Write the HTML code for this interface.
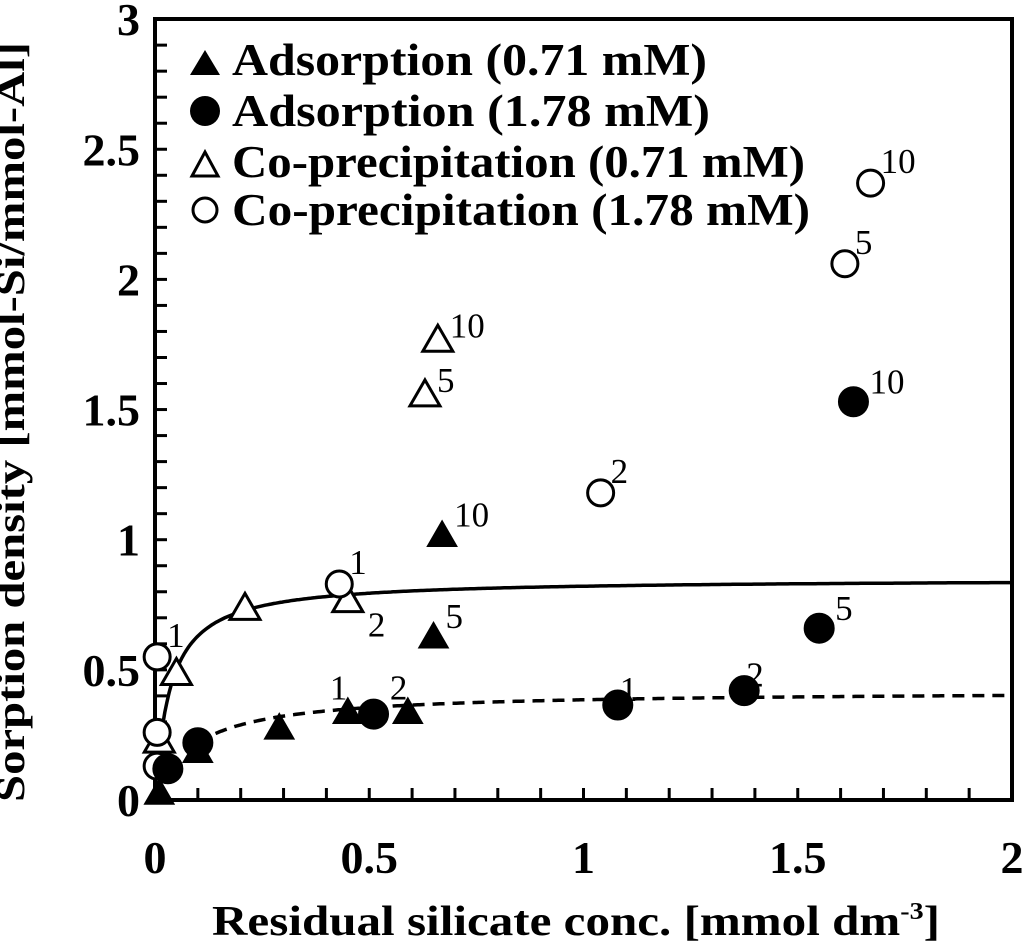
<!DOCTYPE html>
<html><head><meta charset="utf-8"><style>
html,body{margin:0;padding:0;background:#fff;}
svg{display:block;}
text{font-family:"Liberation Serif",serif;fill:#000;}
</style></head><body>
<svg id="chart" width="1024" height="948" viewBox="0 0 1024 948" xmlns="http://www.w3.org/2000/svg">
<rect x="155" y="19" width="857" height="781" fill="none" stroke="#000" stroke-width="4"/>
<g id="ticks"></g>
<g id="curves"></g>
<g id="marks"></g>
<g id="labels"></g>
<text x="24" y="422" transform="rotate(-90 24 422)" text-anchor="middle" font-weight="bold" font-size="40" textLength="760" lengthAdjust="spacingAndGlyphs">Sorption density [mmol-Si/mmol-Al]</text>
<text x="212" y="935" font-weight="bold" font-size="42" textLength="728" lengthAdjust="spacingAndGlyphs">Residual silicate conc. [mmol dm<tspan font-size="24" dy="-16">-3</tspan><tspan dy="16">]</tspan></text>
<g>
<polygon points="190,75 205,50 220,75" fill="#000"/>
<text x="232" y="75" font-weight="bold" font-size="45" textLength="475" lengthAdjust="spacingAndGlyphs">Adsorption (0.71 mM)</text>
<circle cx="205" cy="111" r="15" fill="#000"/>
<text x="232" y="126" font-weight="bold" font-size="45" textLength="478" lengthAdjust="spacingAndGlyphs">Adsorption (1.78 mM)</text>
<polygon points="192,176 205,152 218,176" fill="none" stroke="#000" stroke-width="3"/>
<text x="232" y="177" font-weight="bold" font-size="45" textLength="573" lengthAdjust="spacingAndGlyphs">Co-precipitation (0.71 mM)</text>
<circle cx="205" cy="210" r="12" fill="none" stroke="#000" stroke-width="3"/>
<text x="232" y="225" font-weight="bold" font-size="45" textLength="578" lengthAdjust="spacingAndGlyphs">Co-precipitation (1.78 mM)</text>
</g>
</svg>
<script>
const xTicks = [0, 0.5, 1, 1.5, 2];
const yTicks = [0, 0.5, 1, 1.5, 2, 2.5, 3];
const xTickLabels = ["0", "0.5", "1", "1.5", "2"];
const yTickLabels = ["0", "0.5", "1", "1.5", "2", "2.5", "3"];
const adsLowX = [0.01, 0.10, 0.29, 0.45, 0.59, 0.65, 0.67];
const adsLowY = [0.03, 0.19, 0.28, 0.34, 0.34, 0.63, 1.02];
const adsLowLbl = ["", "", "", "1", "2", "5", "10"];
const adsHighX = [0.03, 0.10, 0.51, 1.08, 1.375, 1.55, 1.63];
const adsHighY = [0.12, 0.22, 0.33, 0.365, 0.42, 0.66, 1.53];
const adsHighLbl = ["", "", "", "1", "2", "5", "10"];
const copLowX = [0.01, 0.05, 0.21, 0.45, 0.63, 0.66];
const copLowY = [0.23, 0.49, 0.74, 0.77, 1.56, 1.77];
const copLowLbl = ["", "", "", "2", "5", "10"];
const copHighX = [0.005, 0.005, 0.005, 0.43, 1.04, 1.61, 1.67];
const copHighY = [0.13, 0.26, 0.55, 0.83, 1.18, 2.06, 2.37];
const copHighLbl = ["", "", "1", "1", "2", "5", "10"];
const fitSolid = {q: 0.85, K: 28.6};
const fitDashed = {q: 0.42, K: 11};

const NS = "http://www.w3.org/2000/svg";
const X0 = 155, XS = 428.5, Y0 = 800, YS = 260.3;
const sx = v => X0 + v * XS;
const sy = v => Y0 - v * YS;
function mk(tag, attrs, parent) {
  const e = document.createElementNS(NS, tag);
  for (const k in attrs) e.setAttribute(k, attrs[k]);
  parent.appendChild(e);
  return e;
}
const ticks = document.getElementById('ticks');
for (let i = 1; i < 20; i++) {
  const t = mk('line', {x1: sx(i / 10), x2: sx(i / 10), y1: Y0, y2: Y0 - 12, stroke: '#000', 'stroke-width': 3}, ticks);
  
  
}
for (let i = 1; i < 30; i++) {
  const t = mk('line', {x1: X0, x2: X0 + 12, y1: sy(i / 10), y2: sy(i / 10), stroke: '#000', 'stroke-width': 3}, ticks);
  
  
}
xTicks.forEach((v, i) => {
  const t = mk('text', {x: sx(v), y: 873, 'text-anchor': 'middle', 'font-weight': 'bold', 'font-size': 46}, ticks);
  t.textContent = xTickLabels[i];
  
  
});
yTicks.forEach((v, i) => {
  const t = mk('text', {x: 140, y: sy(v) + 16, 'text-anchor': 'end', 'font-weight': 'bold', 'font-size': 46}, ticks);
  t.textContent = yTickLabels[i];
  
  
});
const curves = document.getElementById('curves');
function curve(f, x0, dash, name) {
  let d = '';
  for (let i = 0; i <= 400; i++) {
    const x = x0 + (2 - x0) * i / 400;
    const y = f.q * f.K * x / (1 + f.K * x);
    d += (i ? 'L' : 'M') + sx(x).toFixed(1) + ',' + sy(y).toFixed(1);
  }
  const p = mk('path', {d: d, fill: 'none', stroke: '#000', 'stroke-width': 3.5, 'stroke-dasharray': dash}, curves);
  
  
}
curve(fitSolid, 0.008, 'none', 'fit-curve-coprecipitation');
curve(fitDashed, 0.1, '12,8', 'fit-curve-adsorption');

const marks = document.getElementById('marks');
const labels = document.getElementById('labels');
function tri(x, y, filled, name) {
  const cx = sx(x), cy = sy(y);
  const p = mk('polygon', {points: `${cx - 15},${cy + 12} ${cx},${cy - 14} ${cx + 15},${cy + 12}`, fill: filled ? '#000' : '#fff', stroke: '#000', 'stroke-width': filled ? 1 : 3}, marks);
  
  
}
function circ(x, y, filled, name) {
  const c = mk('circle', {cx: sx(x), cy: sy(y), r: filled ? 15 : 13, fill: filled ? '#000' : '#fff', stroke: '#000', 'stroke-width': filled ? 1 : 3}, marks);
  
  
}
function lbl(x, y, s, dx, dy) {
  if (!s) return;
  const t = mk('text', {x: sx(x) + dx, y: sy(y) + dy, 'font-size': 35}, labels);
  t.textContent = s;
  
  
}
copLowX.forEach((x, i) => tri(x, copLowY[i], false, 'point-coprecipitation-071'));
copHighX.forEach((x, i) => circ(x, copHighY[i], false, 'point-coprecipitation-178'));
adsLowX.forEach((x, i) => tri(x, adsLowY[i], true, 'point-adsorption-071'));
adsHighX.forEach((x, i) => circ(x, adsHighY[i], true, 'point-adsorption-178'));
adsLowX.forEach((x, i) => lbl(x, adsLowY[i], adsLowLbl[i], i < 5 ? -18 : 12, i < 5 ? -12 : -8));
adsHighX.forEach((x, i) => lbl(x, adsHighY[i], adsHighLbl[i], i < 5 ? 2 : 16, i < 5 ? -4 : -8));
copLowX.forEach((x, i) => lbl(x, copLowY[i], copLowLbl[i], i === 3 ? 20 : 12, i === 3 ? 37 : -2));
copHighX.forEach((x, i) => lbl(x, copHighY[i], copHighLbl[i], 10, -10));
</script>
</body></html>
